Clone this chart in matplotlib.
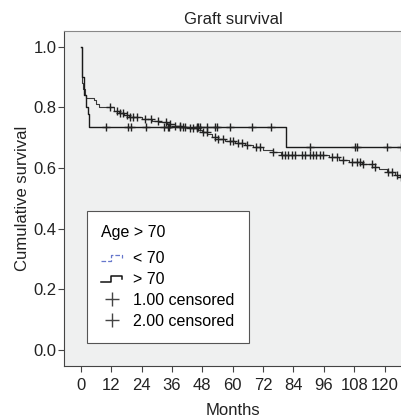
import numpy as np
import matplotlib
matplotlib.use('Agg')
import matplotlib.pyplot as plt
from matplotlib.lines import Line2D
from matplotlib.legend_handler import HandlerBase

plt.rcParams['font.family'] = ['Liberation Sans', 'DejaVu Sans']

# group 1: age < 70
times1 = [0, 0.3, 0.6, 1.0, 1.5, 2.0, 5.0, 6.0, 7.0, 13, 15, 17, 19, 24, 28, 31, 34,
          37, 40, 43, 46, 48, 50, 52, 54, 57, 61, 65, 68, 72, 76, 79, 98, 102, 106,
          111, 115, 118, 121, 124, 126]
surv1 = [1.0, 0.93, 0.88, 0.86, 0.84, 0.83, 0.825, 0.81, 0.80, 0.79, 0.783, 0.776,
         0.77, 0.763, 0.757, 0.752, 0.746, 0.74, 0.736, 0.731, 0.725, 0.718, 0.711,
         0.703, 0.695, 0.689, 0.682, 0.675, 0.668, 0.66, 0.652, 0.644, 0.638, 0.626,
         0.619, 0.612, 0.605, 0.598, 0.588, 0.578, 0.572]
cens1 = [11.5, 14.1, 15.4, 16.7, 18.1, 19.4, 20.7, 22.0, 25.3, 27.9, 30.6, 33.8, 35.2,
         37.2, 39.1, 41.1, 43.1, 44.4, 45.7, 48.4, 49.7, 52.9, 54.3, 56.3, 58.9, 60.2,
         62.2, 63.5, 65.5, 69.4, 70.7, 76.0, 79.3, 80.6, 81.9, 83.3, 84.6, 87.2, 88.5,
         90.5, 91.8, 93.1, 94.5, 95.8, 99.1, 101.1, 103.7, 107.0, 109.0, 110.3, 111.6,
         114.9, 116.2, 121.5, 122.8, 124.8, 126.7]

# group 2: age > 70
times2 = [0, 0.5, 1.2, 2.0, 2.8, 3.3, 81]
surv2 = [1.0, 0.9, 0.84, 0.80, 0.78, 0.734, 0.668]
cens2 = [10, 18.6, 20, 25.7, 33, 34.4, 35, 39, 40.3, 45.7, 46.2, 47, 49.7, 53, 53.6,
         58.9, 67.5, 75, 90.5, 108.3, 109, 120.8, 126.5]

xticks = np.arange(0, 121, 12)
yticks = [0.0, 0.2, 0.4, 0.6, 0.8, 1.0]


def step_at(t, times, surv):
    i = np.searchsorted(times, t, side='right') - 1
    return np.array(surv)[i]


class StepHandler(HandlerBase):
    # little step-shaped legend key, like the SPSS one
    def create_artists(self, legend, orig_handle, xdescent, ydescent,
                       width, height, fontsize, trans):
        x0 = -xdescent
        y0 = -ydescent
        xs = np.array([0, 0.45, 0.45, 1.0, 1.0]) * width + x0
        ys = np.array([0.2, 0.2, 0.75, 0.75, 0.45]) * height + y0
        ln = Line2D(xs, ys, color=orig_handle.get_color(),
                    lw=orig_handle.get_linewidth(), ls=orig_handle.get_linestyle(),
                    transform=trans)
        return [ln]


fig = plt.figure(figsize=(4.02, 4.19), dpi=100)
ax = fig.add_axes([0.159, 0.1265, 0.841, 0.800])
ax.set_facecolor('#eff0f0')

xmax = 127
t1 = times1 + [xmax]
s1 = surv1 + [surv1[-1]]
t2 = times2 + [xmax]
s2 = surv2 + [surv2[-1]]
ax.step(t1, s1, where='post', color='#3a3a3a', lw=0.8)
ax.step(t2, s2, where='post', color='#1a1a1a', lw=1.0)

ax.plot(cens1, step_at(cens1, times1, surv1), '+', color='#222222', ms=6, mew=1.0)
ax.plot(cens2, step_at(cens2, times2, surv2), '+', color='#222222', ms=6, mew=1.0)

ax.set_xlim(-6.7, 126.9)
ax.set_ylim(-0.053, 1.053)
ax.set_xticks(xticks)
ax.set_yticks(yticks)
ax.set_yticklabels(['%.1f' % v for v in yticks])
ax.tick_params(direction='out', length=4, color='#444444', labelsize=12,
               labelcolor='#222222')
ax.tick_params(axis='x', pad=5)
ax.tick_params(axis='y', pad=1.5)
ax.spines['right'].set_visible(False)
ax.spines['left'].set_color('#444444')
ax.spines['bottom'].set_color('#444444')
ax.spines['top'].set_color('#888888')

ax.set_title('Graft survival', fontsize=12, pad=5, color='#222222')
ax.set_xlabel('Months', fontsize=12, labelpad=7, color='#222222')
ax.set_ylabel('Cumulative survival', fontsize=12, labelpad=2, color='#222222')

handles = [
    Line2D([], [], color='#6677cc', lw=0.9, ls=(0, (2, 1))),
    Line2D([], [], color='#111111', lw=1.1),
    Line2D([], [], color='#444444', marker='+', ms=10, mew=1.0, lw=0),
    Line2D([], [], color='#444444', marker='+', ms=10, mew=1.0, lw=0),
]
labels = ['< 70', '> 70', '1.00 censored', '2.00 censored']
step_h = StepHandler()
leg = ax.legend(handles, labels, title='Age > 70', loc='lower left',
                bbox_to_anchor=(0.068, 0.0687), fontsize=11.5, title_fontsize=11.5,
                fancybox=False, edgecolor='#555555', framealpha=1,
                handlelength=1.3, handletextpad=0.7, labelspacing=0.36,
                borderpad=0.9, borderaxespad=0,
                handler_map={handles[0]: step_h, handles[1]: step_h})
leg._legend_box.align = 'left'
leg._legend_box.sep = 8
leg.get_frame().set_linewidth(0.8)

fig.savefig('out.png', dpi=100)
